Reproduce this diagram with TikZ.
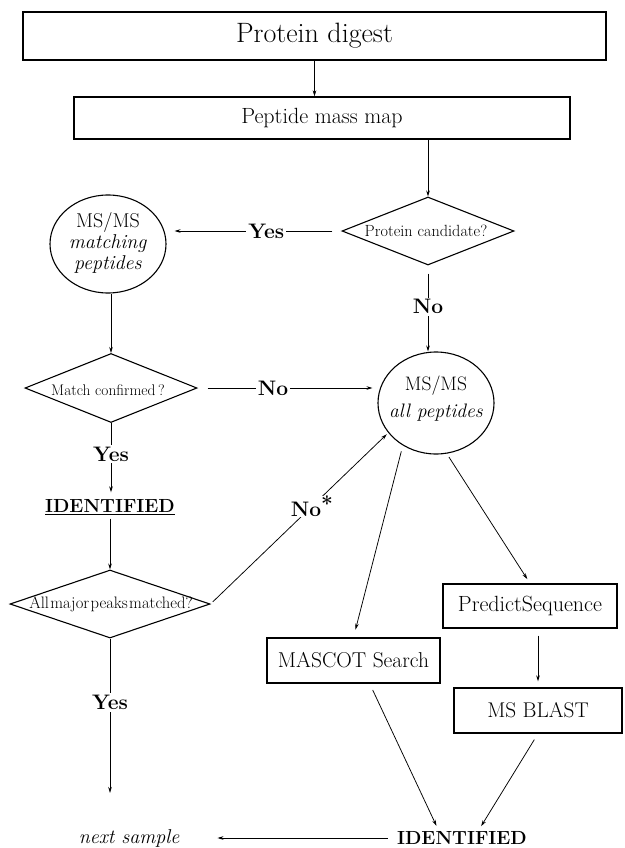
\documentclass[tikz,border=0pt]{standalone}
\usetikzlibrary{shapes.geometric,arrows.meta,calc}
\newcommand{\myfs}[1]{\fontsize{#1}{#1}\selectfont}
\newcommand{\myfsb}[2]{\fontsize{#1}{#2}\selectfont}
\begin{document}
\begin{tikzpicture}[x=1pt,y=-1pt,
  box/.style={draw, rectangle, line width=1.3pt, inner sep=0pt},
  ell/.style={draw, ellipse, line width=1.1pt, inner sep=0pt, minimum width=116pt, minimum height=100pt},
  dia/.style={draw, diamond, line width=1.1pt, inner sep=0pt},
  arr/.style={-{Stealth[length=6pt,width=3.6pt]}, line width=0.75pt},
  lab/.style={fill=white, inner sep=2pt, font=\myfs{21}\bfseries},
  txt/.style={inner sep=1pt, align=center}]
\useasboundingbox (0,0) rectangle (624,848);
% boxes
\node[box, minimum width=583pt, minimum height=48pt, font=\myfs{28}] (pd) at (314.5,36) {Protein digest};
\node[box, minimum width=496pt, minimum height=42pt, font=\myfs{22}] (pmm) at (322,118) {Peptide mass map};
% decision: protein candidate
\node[dia, minimum width=172pt, minimum height=68pt] (pc) at (428,231) {};
\node[txt, font=\myfs{16.2}] (pct) at (426,231) {Protein candidate?};
% MS/MS matching peptides
\node[ell, minimum height=98pt] (mp) at (108,244) {};
\node[txt, font=\myfsb{20}{21}] (mpt) at (108,243) {MS/MS\\\textit{matching}\\\textit{peptides}};
% match confirmed
\node[dia, minimum width=172pt, minimum height=69pt] (mc) at (111,388) {};
\node[txt, font=\myfs{15.4}] (mct) at (108,390) {Match confirmed\,?};
% MS/MS all peptides
\node[ell, minimum height=102pt] (ap) at (436,403) {};
\node[txt, font=\myfsb{19.5}{20}] (apt) at (436,399) {MS/MS\\[7pt]\textit{all peptides}};
% identified left
\node[inner sep=2pt, font=\myfs{19}] (idl) at (110,507) {\underline{\textbf{IDENTIFIED}}};
% all major peaks matched
\node[dia, minimum width=200pt, minimum height=68pt] (mj) at (110,604) {};
\node[txt, font=\myfs{16.6}] (mjt) at (111,604) {{\spaceskip=1.3pt All major peaks matched?}};
% right column boxes
\node[box, minimum width=173pt, minimum height=45pt, font=\myfs{21.5}] (mascot) at (353.5,660.5) {MASCOT Search};
\node[box, minimum width=174pt, minimum height=44pt, font=\myfs{22}] (ps) at (530,606) {PredictSequence};
\node[box, minimum width=168pt, minimum height=45pt, font=\myfs{21.3}] (msb) at (538,710.5) {MS BLAST};
% bottom
\node[inner sep=0pt, font=\myfs{19}\bfseries] (idr) at (462,838) {IDENTIFIED};
\node[inner sep=2pt, font=\myfs{20}\itshape] (next) at (129,838) {next sample};
% connectors
\draw[arr] (pd.south) -- (pd.south |- pmm.north);
\draw[arr] (pc.north |- pmm.south) -- (pc.north);
\draw[arr, shorten <=9pt, shorten >=8pt] (pc.west) -- node[lab, pos=0.43] {Yes} (pc.west -| mp.east);
\draw[arr] (mc.north |- mp.south) -- (mc.north);
\draw[arr, shorten <=10pt, shorten >=5pt] (mc.east) -- node[lab, pos=0.42] {No} (mc.east -| ap.west);
\draw[arr, shorten <=8pt] (pc.south) -- node[lab, pos=0.48] {No} (pc.south |- ap.north);
\draw[arr, shorten >=5pt] (mc.south) -- node[lab, pos=0.42] {Yes} (mc.south |- idl.north);
\draw[arr, shorten <=2pt] (idl.south) -- (mj.north);
\draw[arr, shorten <=3pt, shorten >=2pt] (mj.east) -- node[lab, pos=0.57, inner sep=0.5pt] {No\raisebox{5pt}{*}} (ap.212);
\draw[arr, shorten >=34pt] (mj.south) -- node[lab, pos=0.34] {Yes} (mj.south |- next.north);
\draw[arr, shorten <=6pt, shorten >=8pt] (ap.232) -- (mascot.north);
\draw[arr, shorten <=4pt, shorten >=5pt] (ap.282) -- (ps.north);
\draw[arr, shorten <=7pt, shorten >=6pt] (msb.north |- ps.south) -- (msb.north);
\draw[arr, shorten <=7pt, shorten >=6pt] (mascot.-55) -- ($(idr.north)+(-23,0)$);
\draw[arr, shorten <=7pt, shorten >=6pt] (msb.south) -- ($(idr.north)+(16,0)$);
\draw[arr, shorten <=9pt, shorten >=36pt] (idr.west) -- (next.east);
\end{tikzpicture}
\end{document}
